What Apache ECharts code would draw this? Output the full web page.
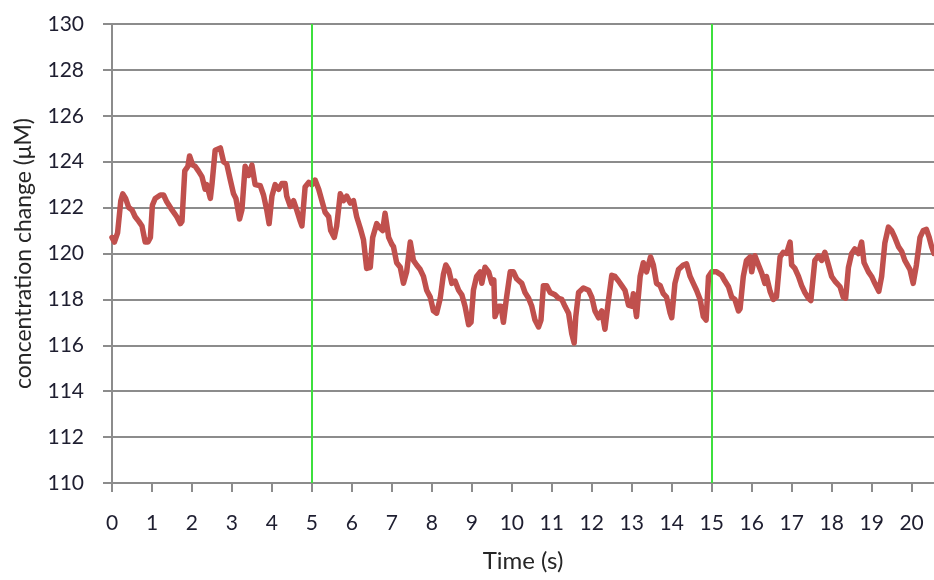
<!DOCTYPE html>
<html>
<head>
<meta charset="utf-8">
<script src="https://cdn.jsdelivr.net/npm/echarts@6/dist/echarts.min.js"></script>
<style>
  html, body { margin: 0; padding: 0; background: #ffffff; }
  #chart { width: 934px; height: 580px; }
</style>
</head>
<body>
<div id="chart"></div>
<script>
// Recorded trace: time in seconds and concentration change in µM
const timeS = [
  0.00, 0.06, 0.14, 0.22, 0.27, 0.34, 0.42, 0.50, 0.58, 0.67, 0.75, 0.83, 0.90, 0.96,
  1.01, 1.08, 1.21, 1.29, 1.37, 1.50, 1.62, 1.71, 1.75, 1.82, 1.90, 1.94,
  2.02, 2.08, 2.16, 2.25, 2.33, 2.37, 2.46, 2.50, 2.58, 2.71, 2.79, 2.87, 2.96,
  3.04, 3.10, 3.19, 3.25, 3.33, 3.42, 3.50, 3.58, 3.71, 3.79, 3.87, 3.93,
  4.00, 4.08, 4.17, 4.25, 4.33, 4.37, 4.46, 4.54, 4.62, 4.71, 4.75, 4.83, 4.92,
  5.00, 5.08, 5.17, 5.25, 5.33, 5.42, 5.47, 5.56, 5.62, 5.71, 5.79, 5.87, 5.96,
  6.04, 6.12, 6.21, 6.29, 6.37, 6.46, 6.52, 6.62, 6.71, 6.77, 6.83, 6.92,
  7.00, 7.04, 7.12, 7.21, 7.29, 7.37, 7.46, 7.54, 7.62, 7.71, 7.79, 7.87, 7.96,
  8.04, 8.12, 8.21, 8.29, 8.35, 8.42, 8.50, 8.58, 8.67, 8.75, 8.83, 8.92, 8.98,
  9.04, 9.12, 9.21, 9.25, 9.33, 9.42, 9.50, 9.55, 9.58, 9.67, 9.73, 9.79, 9.87, 9.96,
  10.04, 10.12, 10.25, 10.33, 10.42, 10.50, 10.58, 10.67, 10.73, 10.79, 10.87, 10.96,
  11.08, 11.17, 11.25, 11.33, 11.42, 11.50, 11.56, 11.60, 11.67, 11.79, 11.92,
  12.00, 12.08, 12.17, 12.25, 12.33, 12.42, 12.50, 12.58, 12.67, 12.75, 12.83, 12.92,
  13.00, 13.04, 13.12, 13.21, 13.29, 13.37, 13.47, 13.54, 13.62, 13.71, 13.79, 13.87, 13.96,
  14.00, 14.08, 14.17, 14.29, 14.37, 14.46, 14.54, 14.62, 14.71, 14.79, 14.86, 14.92,
  15.00, 15.12, 15.25, 15.33, 15.42, 15.50, 15.58, 15.67, 15.71, 15.79, 15.87, 15.96,
  16.00, 16.08, 16.17, 16.25, 16.33, 16.37, 16.46, 16.54, 16.62, 16.71, 16.79, 16.87, 16.96,
  17.00, 17.08, 17.17, 17.25, 17.33, 17.42, 17.48, 17.58, 17.67, 17.75, 17.83, 17.92,
  18.00, 18.08, 18.21, 18.29, 18.35, 18.42, 18.50, 18.58, 18.67, 18.75, 18.81, 18.92,
  19.00, 19.08, 19.18, 19.25, 19.33, 19.42, 19.50, 19.58, 19.67, 19.75, 19.83, 19.96,
  20.04, 20.12, 20.21, 20.29, 20.37, 20.44, 20.50, 20.56
];

const concentration = [
  120.7, 120.5, 120.9, 122.3, 122.6, 122.4, 122.0, 121.9, 121.6, 121.4, 121.2, 120.5, 120.5, 120.7,
  122.1, 122.4, 122.55, 122.55, 122.25, 121.9, 121.6, 121.3, 121.4, 123.6, 123.8, 124.25,
  123.85, 123.8, 123.6, 123.35, 122.8, 123.0, 122.4, 123.0, 124.5, 124.6, 124.0, 123.9, 123.2,
  122.6, 122.4, 121.5, 121.9, 123.8, 123.4, 123.85, 123.0, 122.95, 122.55, 121.9, 121.3,
  122.5, 123.0, 122.8, 123.05, 123.05, 122.5, 122.05, 122.3, 121.9, 121.4, 121.2, 122.9, 123.1,
  123.0, 123.2, 122.8, 122.3, 121.8, 121.6, 121.0, 120.7, 121.2, 122.6, 122.3, 122.5, 122.2,
  122.3, 121.6, 121.1, 120.6, 119.35, 119.4, 120.7, 121.3, 121.1, 121.0, 121.75, 120.7,
  120.4, 120.3, 119.6, 119.4, 118.7, 119.2, 120.5, 119.7, 119.5, 119.3, 119.0, 118.4, 118.1,
  117.5, 117.4, 118.05, 119.1, 119.5, 119.3, 118.7, 118.8, 118.4, 118.2, 117.7, 116.9, 117.0,
  118.4, 119.0, 119.2, 118.7, 119.4, 119.2, 118.7, 118.85, 117.25, 117.7, 117.7, 117.0, 118.1, 119.2,
  119.2, 118.9, 118.7, 118.3, 118.05, 117.7, 117.1, 116.8, 117.1, 118.6, 118.6, 118.3,
  118.2, 118.05, 118.0, 117.7, 117.4, 116.5, 116.1, 117.25, 118.3, 118.5, 118.4,
  118.1, 117.5, 117.2, 117.5, 116.7, 118.0, 119.05, 119.0, 118.8, 118.6, 118.4, 117.75,
  117.7, 118.25, 117.25, 119.0, 119.6, 119.2, 119.85, 119.5, 118.7, 118.6, 118.25, 118.1, 117.4,
  117.2, 118.7, 119.3, 119.5, 119.55, 119.0, 118.7, 118.4, 118.0, 117.25, 117.1, 119.0,
  119.2, 119.2, 119.05, 118.8, 118.55, 118.1, 118.0, 117.5, 117.6, 119.0, 119.7, 119.85,
  119.2, 119.9, 119.5, 119.15, 118.7, 119.0, 118.35, 118.0, 118.1, 119.85, 120.05, 120.0, 120.5,
  119.5, 119.35, 119.0, 118.6, 118.3, 118.05, 117.95, 119.7, 119.9, 119.7, 120.05, 119.5,
  119.0, 118.8, 118.55, 118.1, 118.05, 119.4, 120.0, 120.2, 120.0, 120.5, 119.6, 119.2,
  119.0, 118.7, 118.35, 119.0, 120.45, 121.15, 121.0, 120.7, 120.3, 120.1, 119.7, 119.3,
  118.7, 119.5, 120.7, 121.0, 121.05, 120.7, 120.3, 120.0
];

// Labelled whole seconds along the time axis
const timeTicks = [0, 1, 2, 3, 4, 5, 6, 7, 8, 9, 10, 11, 12, 13, 14, 15, 16, 17, 18, 19, 20];

// Times marking the stimulus window
const markerTimes = [5, 15];

const seriesData = timeS.map((t, i) => [t, concentration[i]]);

const axisGray = '#8c8c8c';
const tickTextColor = '#1e1e30';
const titleColor = '#262626';
const fontFamily = 'Lato, "Open Sans", sans-serif';

const chart = echarts.init(document.getElementById('chart'), null, { renderer: 'canvas' });

chart.setOption({
  animation: false,
  backgroundColor: '#ffffff',
  grid: { left: 112, right: 0, top: 24, bottom: 97, containLabel: false },
  xAxis: {
    type: 'value',
    min: 0,
    max: 20.56,
    name: 'Time (s)',
    nameLocation: 'middle',
    nameGap: 66,
    nameTextStyle: { color: titleColor, fontSize: 24, fontFamily: fontFamily },
    axisLine: { show: true, lineStyle: { color: axisGray, width: 2 } },
    axisTick: {
      show: true, length: 9, inside: false,
      customValues: timeTicks,
      lineStyle: { color: axisGray, width: 2 }
    },
    axisLabel: {
      customValues: timeTicks,
      margin: 30,
      color: tickTextColor,
      fontSize: 21,
      fontFamily: fontFamily
    },
    splitLine: { show: false }
  },
  yAxis: {
    type: 'value',
    min: 110,
    max: 130,
    interval: 2,
    name: 'concentration change (μM)',
    nameLocation: 'middle',
    nameRotate: 90,
    nameGap: 77,
    nameTextStyle: { color: titleColor, fontSize: 23, fontFamily: fontFamily },
    axisLine: { show: true, lineStyle: { color: axisGray, width: 2 } },
    axisTick: { show: true, length: 9, inside: false, lineStyle: { color: axisGray, width: 2 } },
    axisLabel: {
      margin: 28,
      color: tickTextColor,
      fontSize: 21,
      fontFamily: fontFamily
    },
    splitLine: { show: true, lineStyle: { color: axisGray, width: 2 } }
  },
  series: [{
    type: 'line',
    data: seriesData,
    showSymbol: false,
    smooth: false,
    clip: true,
    lineStyle: { color: '#c0504d', width: 5.5, join: 'round', cap: 'round' },
    itemStyle: { color: '#c0504d' },
    markLine: {
      silent: true,
      symbol: ['none', 'none'],
      label: { show: false },
      lineStyle: { color: '#3ee03e', width: 2, type: 'solid' },
      data: markerTimes.map(t => ({ xAxis: t }))
    }
  }]
});
</script>
</body>
</html>
